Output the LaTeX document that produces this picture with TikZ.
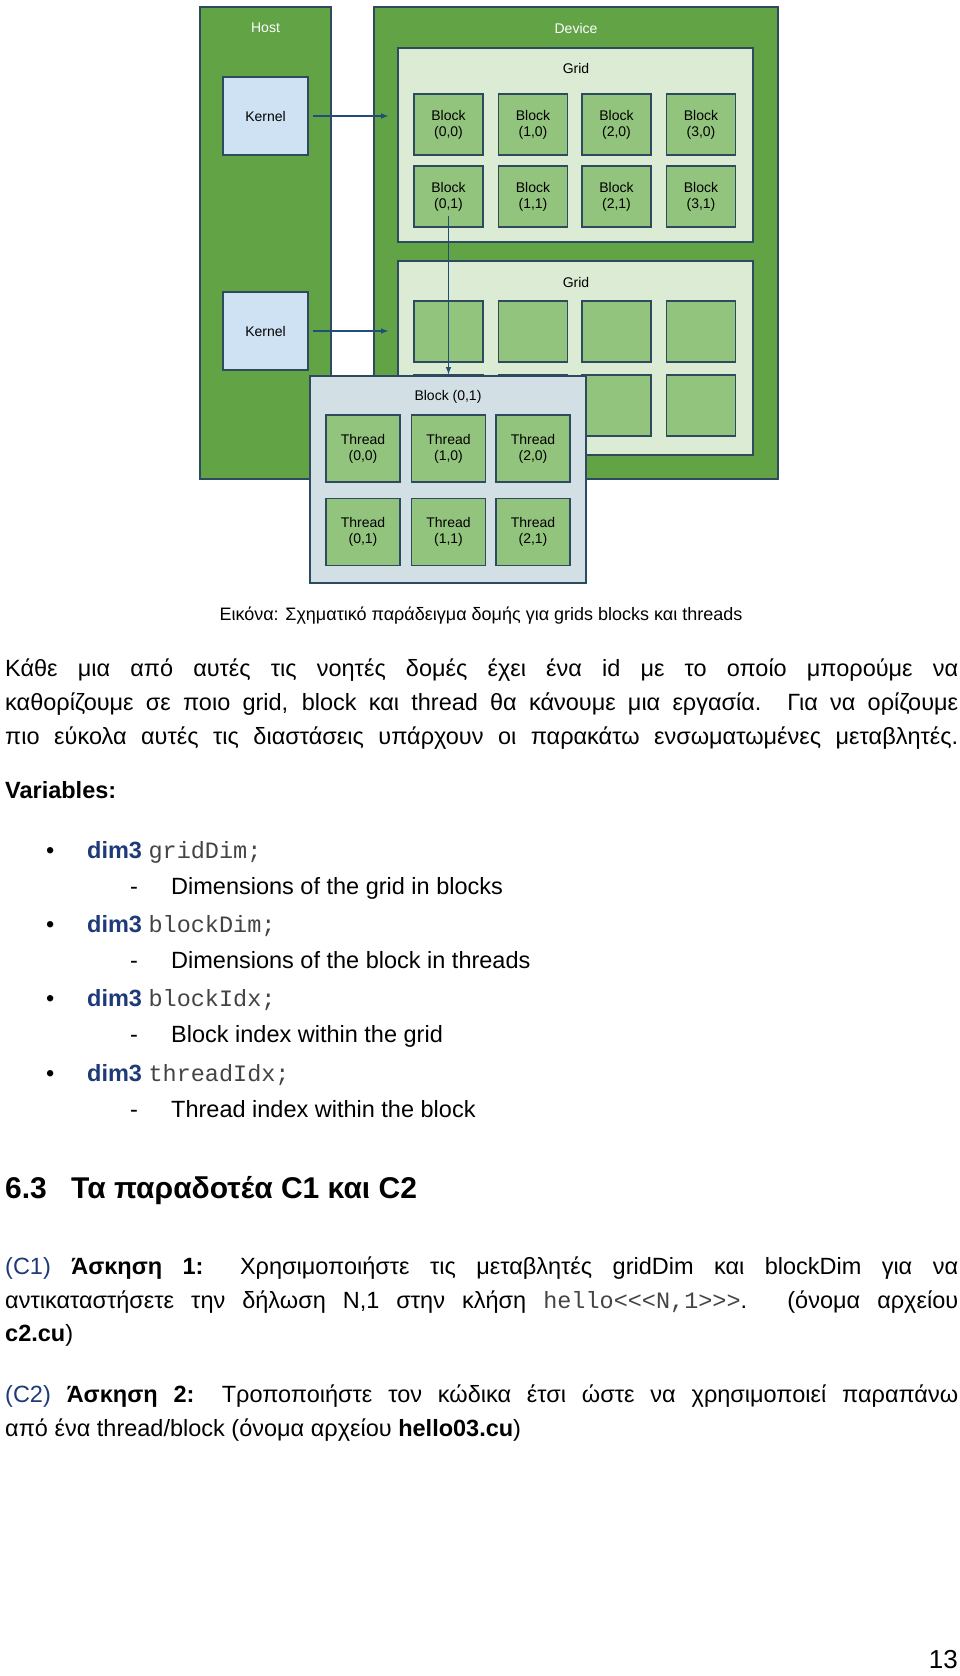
\documentclass[tikz,border=0pt]{standalone}
\usepackage{fontspec}
\setmainfont{Liberation Sans}
\setmonofont{Liberation Mono}
\definecolor{outg}{HTML}{62A346}
\definecolor{gridbg}{HTML}{DCEBD4}
\definecolor{blk}{HTML}{93C47D}
\definecolor{edge}{HTML}{2E4A5E}
\definecolor{kern}{HTML}{CFE2F3}
\definecolor{bigb}{HTML}{D2E0E6}
\definecolor{arr}{HTML}{1F4E79}
\definecolor{dblue}{HTML}{1F3A78}
\definecolor{mono}{HTML}{444444}
\tikzset{
 bx/.style={draw=edge,line width=1.3pt,inner sep=0pt},
 cell/.style={bx,fill=blk,minimum width=69pt,minimum height=61pt,align=center,font=\fontsize{14}{16}\selectfont},
 thr/.style={bx,fill=blk,minimum width=74pt,minimum height=67pt,align=center,font=\fontsize{14}{16}\selectfont},
 lab/.style={font=\fontsize{14}{16}\selectfont},
 con/.style={draw=arr,line width=1.5pt,-latex},
 txt/.style={anchor=base west,inner sep=0pt,font=\fontsize{23.5}{28}\selectfont},
}
\newcommand{\jl}[1]{\makebox[953pt][s]{#1}}
\begin{document}
\begin{tikzpicture}[x=1pt,y=-1pt]
\useasboundingbox (0,0) rectangle (960,1676);
\fill[white] (0,0) rectangle (960,1676);
% diagram
\node[bx,fill=outg,minimum width=131pt,minimum height=472pt] (host) at (265.5,243) {};
\node[bx,fill=outg,minimum width=404pt,minimum height=472pt] (dev) at (576,243) {};
\node[lab,text=white] (hostt) at (265.5,28) {Host};
\node[lab,text=white] (devt) at (576,28) {Device};
\node[bx,fill=gridbg,minimum width=355pt,minimum height=194pt] (g1) at (575.5,145) {};
\node[bx,fill=gridbg,minimum width=355pt,minimum height=194pt] (g2) at (575.5,358) {};
\node[lab] (g1t) at (576,68) {Grid};
\node[lab] (g2t) at (576,282) {Grid};
\node[bx,fill=kern,minimum width=85pt,minimum height=78pt,lab] (k1) at (265.5,116) {Kernel};
\node[bx,fill=kern,minimum width=85pt,minimum height=78pt,lab] (k2) at (265.5,331) {Kernel};
\foreach \c/\x in {0/448.5,1/533,2/616.5,3/701}{
  \node[cell] (b\c0) at (\x,124.5) {Block\\(\c,0)};
  \node[cell] (b\c1) at (\x,196.5) {Block\\(\c,1)};
  \node[cell] (c\c0) at (\x,331.5) {};
  \node[cell] (c\c1) at (\x,405.5) {};
}
\draw[con,shorten <=4pt,shorten >=9pt] (k1.east) -- (g1.west|-k1.east);
\draw[con,shorten <=4pt,shorten >=9pt] (k2.east) -- (g2.west|-k2.east);
\node[bx,fill=bigb,minimum width=276pt,minimum height=207pt] (big) at (448,479.5) {};
\node[lab] (bigt) at (448,397) {Block (0,1)};
\foreach \c/\x in {0/363,1/448.5,2/533}{
  \node[thr] (t\c0) at (\x,448.5) {Thread\\(\c,0)};
  \node[thr] (t\c1) at (\x,532) {Thread\\(\c,1)};
}
\draw[con,shorten >=1pt] ([yshift=-19pt]b01.center) -- (b01.center|-big.north);
% text
\node[anchor=base,inner sep=0pt,font=\fontsize{18}{21}\selectfont] (cap) at (481,620) {Εικόνα: Σχηματικό παράδειγμα δομής για grids blocks και threads};
\node[txt] (p1) at (5,676) {\jl{Κάθε μια από αυτές τις νοητές δομές έχει ένα id με το οποίο μπορούμε να}};
\node[txt] (p2) at (5,710) {\jl{καθορίζουμε σε ποιο grid, block και thread θα κάνουμε μια εργασία. Για να ορίζουμε}};
\node[txt] (p3) at (5,744) {\jl{πιο εύκολα αυτές τις διαστάσεις υπάρχουν οι παρακάτω ενσωματωμένες μεταβλητές.}};
\node[txt] (var) at (5,798) {\textbf{Variables:}};
\foreach \y/\v/\d in {858/gridDim/Dimensions of the grid in blocks,
                       932/blockDim/Dimensions of the block in threads,
                       1006/blockIdx/Block index within the grid,
                       1081/threadIdx/Thread index within the block}{
  \node[txt] at (46,\y) {•};
  \node[txt] at (87,\y) {\textcolor{dblue}{\textbf{dim3}} \textcolor{mono}{\texttt{\v;}}};
  \node[txt] at (130,\y+36) {-};
  \node[txt] at (171,\y+36) {\d};
}
\node[txt,font=\fontsize{30}{34}\selectfont\bfseries] (h) at (5,1198) {6.3};
\node[txt,font=\fontsize{30}{34}\selectfont\bfseries] (h2) at (71,1198) {Τα παραδοτέα C1 και C2};
\node[txt] (c1a) at (5,1274) {\jl{\textcolor{dblue}{(C1)} \textbf{Άσκηση 1:} Χρησιμοποιήστε τις μεταβλητές gridDim και blockDim για να}};
\node[txt] (c1b) at (5,1308) {\jl{αντικαταστήσετε την δήλωση N,1 στην κλήση \textcolor{mono}{\texttt{hello<{}<{}<N,1>{}>{}>}}. (όνομα αρχείου}};
\node[txt] (c1c) at (5,1341) {\textbf{c2.cu})};
\node[txt] (c2a) at (5,1402) {\jl{\textcolor{dblue}{(C2)} \textbf{Άσκηση 2:} Τροποποιήστε τον κώδικα έτσι ώστε να χρησιμοποιεί παραπάνω}};
\node[txt] (c2b) at (5,1436) {από ένα thread/block (όνομα αρχείου \textbf{hello03.cu})};
\node[anchor=base east,inner sep=0pt,font=\fontsize{26}{30}\selectfont] (pg) at (958,1668) {13};
\end{tikzpicture}
\end{document}
